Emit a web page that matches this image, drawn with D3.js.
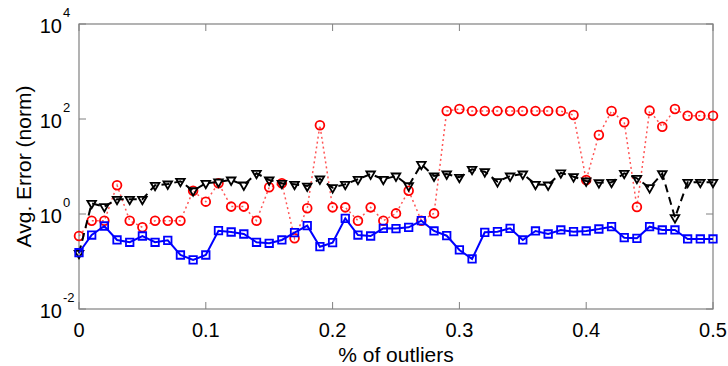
<!DOCTYPE html>
<html>
<head>
<meta charset="utf-8">
<script src="https://cdn.jsdelivr.net/npm/d3@7"></script>
<style>
  html, body { margin: 0; padding: 0; background: #fff; }
  text { font-family: "Liberation Sans", Arial, Helvetica, sans-serif; }
</style>
</head>
<body>
<div id="chart"></div>
<script>
const outliers = [0, 0.01, 0.02, 0.03, 0.04, 0.05, 0.06, 0.07, 0.08, 0.09,
  0.1, 0.11, 0.12, 0.13, 0.14, 0.15, 0.16, 0.17, 0.18, 0.19,
  0.2, 0.21, 0.22, 0.23, 0.24, 0.25, 0.26, 0.27, 0.28, 0.29,
  0.3, 0.31, 0.32, 0.33, 0.34, 0.35, 0.36, 0.37, 0.38, 0.39,
  0.4, 0.41, 0.42, 0.43, 0.44, 0.45, 0.46, 0.47, 0.48, 0.49, 0.5];

const blueVals = [0.153, 0.361, 0.559, 0.284, 0.254, 0.344, 0.254, 0.279, 0.137, 0.108,
  0.137, 0.445, 0.418, 0.379, 0.254, 0.242, 0.284, 0.404, 0.567, 0.205,
  0.249, 0.812, 0.361, 0.344, 0.5, 0.493, 0.525, 0.723, 0.439, 0.349,
  0.175, 0.113, 0.412, 0.424, 0.5, 0.284, 0.439, 0.379, 0.461, 0.424,
  0.439, 0.483, 0.54, 0.317, 0.308, 0.54, 0.461, 0.461, 0.298, 0.298, 0.298];

const blackVals = [0.149, 1.68, 1.43, 2.04, 2.04, 2.04, 4.02, 4.28, 4.88, 3.09,
  4.43, 4.72, 5.2, 4.08, 7.19, 5.2, 4.43, 4.22, 3.88, 5.46,
  3.58, 4.22, 5.38, 6.95, 5.38, 6.31, 3.94, 11.1, 6.31, 6.95,
  5.93, 8.73, 7.78, 4.79, 6.31, 6.95, 4.22, 4.08, 7.36, 6.1,
  4.95, 4.56, 4.65, 7.19, 5.64, 3.58, 7.05, 0.836, 4.65, 4.65, 4.65];

const redVals = [0.344, 0.723, 0.723, 4.02, 0.723, 0.525, 0.723, 0.723, 0.723, 3.09,
  1.82, 4.43, 1.43, 1.43, 0.723, 3.65, 4.43, 0.308, 1.32, 73.6,
  1.38, 1.38, 0.723, 1.38, 0.723, 1.03, 3.09, 0.723, 1.03, 147,
  162, 147, 147, 147, 147, 147, 147, 147, 147, 121,
  5.2, 46, 147, 85.2, 1.4, 150, 68.8, 162, 117, 117, 117];

const xTicks = [0, 0.1, 0.2, 0.3, 0.4, 0.5];
const xTickLabels = ['0', '0.1', '0.2', '0.3', '0.4', '0.5'];
const yExponents = [-2, 0, 2, 4];

const width = 728, height = 366;
const margin = { top: 24, right: 15, bottom: 57, left: 79 };

const svg = d3.select('#chart').append('svg')
  .attr('width', width)
  .attr('height', height);

const x_sc = d3.scaleLinear().domain([0, 0.5]).range([margin.left, width - margin.right]);
const y_sc = d3.scaleLog().domain([1e-2, 1e4]).range([height - margin.bottom, margin.top]);

const x0 = x_sc.range()[0], x1 = x_sc.range()[1];
const y0 = y_sc.range()[0], y1 = y_sc.range()[1];
const axisCol = '#808080';
const tk = 7;

// box
svg.append('rect')
  .attr('x', x0).attr('y', y1)
  .attr('width', x1 - x0).attr('height', y0 - y1)
  .attr('fill', 'none').attr('stroke', axisCol).attr('stroke-width', 1.2);

// ticks (inside, on both sides)
const ax = svg.append('g').attr('stroke', axisCol).attr('stroke-width', 1);
xTicks.forEach(v => {
  ax.append('line').attr('x1', x_sc(v)).attr('x2', x_sc(v)).attr('y1', y0).attr('y2', y0 - tk);
  ax.append('line').attr('x1', x_sc(v)).attr('x2', x_sc(v)).attr('y1', y1).attr('y2', y1 + tk);
});
yExponents.forEach(e => {
  const y = y_sc(Math.pow(10, e));
  ax.append('line').attr('x1', x0).attr('x2', x0 + tk).attr('y1', y).attr('y2', y);
  ax.append('line').attr('x1', x1).attr('x2', x1 - tk).attr('y1', y).attr('y2', y);
});

// tick labels
svg.append('g').selectAll('text')
  .data(xTicks)
  .enter().append('text')
  .attr('x', d => x_sc(d))
  .attr('y', y0 + 28)
  .attr('text-anchor', 'middle')
  .attr('font-size', 20)
  .text((d, i) => xTickLabels[i]);

const yl = svg.append('g');
yExponents.forEach(e => {
  const y = y_sc(Math.pow(10, e));
  yl.append('text')
    .attr('x', 62).attr('y', y + 9)
    .attr('text-anchor', 'end')
    .attr('font-size', 20)
    .text('10');
  yl.append('text')
    .attr('x', 63).attr('y', y - 7)
    .attr('text-anchor', 'start')
    .attr('font-size', 13)
    .text(e);
});

// axis titles
svg.append('text')
  .attr('x', (x0 + x1) / 2)
  .attr('y', 362)
  .attr('text-anchor', 'middle')
  .attr('font-size', 21)
  .text('% of outliers');

svg.append('text')
  .attr('transform', `translate(31,${(y0 + y1) / 2}) rotate(-90)`)
  .attr('text-anchor', 'middle')
  .attr('font-size', 21)
  .text('Avg. Error (norm)');

// series
const series = [
  { name: 'red', vals: redVals, color: '#ff0000', lineColor: '#ff5555', dash: '2,3', lw: 1.5,
    symbol: d3.symbolCircle, size: 60, rot: 0 },
  { name: 'black', vals: blackVals, color: '#000000', lineColor: '#000000', dash: '8,5', lw: 2,
    symbol: d3.symbolTriangle, size: 32, rot: 180 },
  { name: 'blue', vals: blueVals, color: '#0000ff', lineColor: '#0000ff', dash: null, lw: 2,
    symbol: d3.symbolSquare, size: 56, rot: 0 }
];

const line = d3.line()
  .x(d => x_sc(d[0]))
  .y(d => y_sc(d[1]));

series.forEach(s => {
  const pts = outliers.map((xv, i) => [xv, s.vals[i]]);
  const g = svg.append('g').attr('class', 'series-' + s.name);
  g.append('path')
    .datum(pts)
    .attr('d', line)
    .attr('fill', 'none')
    .attr('stroke', s.lineColor)
    .attr('stroke-width', s.lw)
    .attr('stroke-dasharray', s.dash);
  g.selectAll('.mk')
    .data(pts)
    .enter().append('path')
    .attr('class', 'mk')
    .attr('d', d3.symbol().type(s.symbol).size(s.size))
    .attr('transform', d => `translate(${x_sc(d[0])},${y_sc(d[1])}) rotate(${s.rot})`)
    .attr('fill', 'none')
    .attr('stroke', s.color)
    .attr('stroke-width', 1.8);
});
</script>
</body>
</html>
